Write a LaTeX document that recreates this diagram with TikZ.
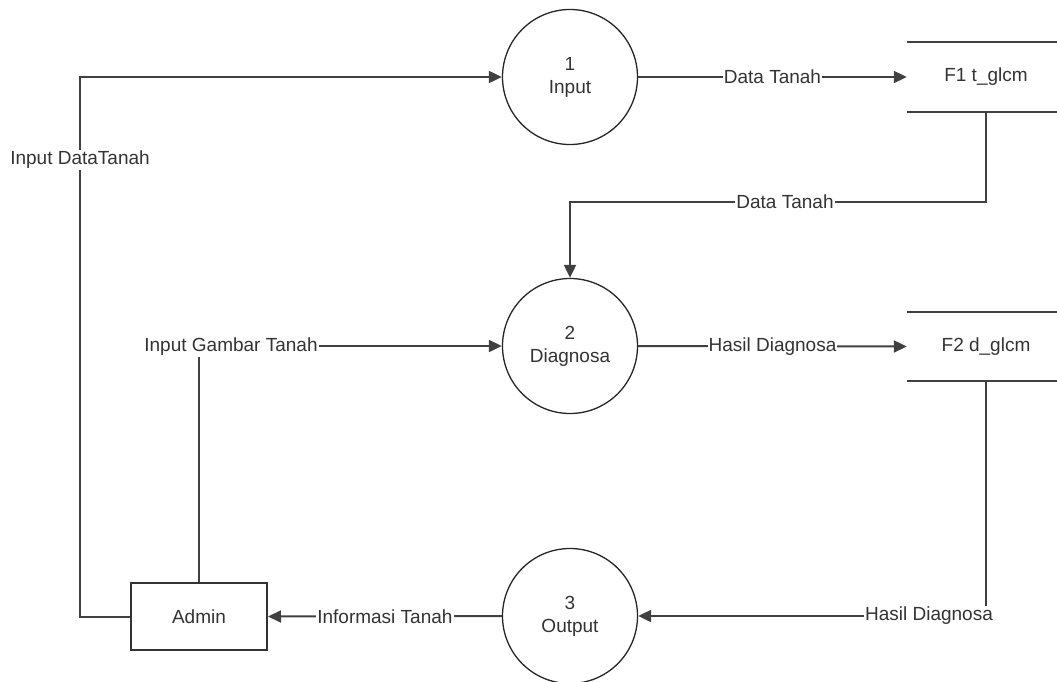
\documentclass[tikz,border=0pt]{standalone}
\usepackage{fontspec}
\setmainfont{Liberation Sans}
\usetikzlibrary{arrows.meta}
\begin{document}
\begin{tikzpicture}[x=1pt,y=-1pt,
  every node/.style={font=\fontsize{19}{23}\selectfont, text=black!80},
  proc/.style={circle, draw=black!85, line width=1.3pt, minimum size=135pt, inner sep=0pt, align=center},
  ent/.style={draw=black!80, line width=2pt, minimum width=136pt, minimum height=67pt, inner sep=0pt},
  store/.style={minimum width=158pt, minimum height=69pt, inner sep=0pt},
  flow/.style={draw=black!75, line width=2pt},
  arr/.style={flow, -{Triangle[length=13pt,width=12pt]}},
  lbl/.style={fill=white, inner sep=1pt},
]
\useasboundingbox (0,0) rectangle (1057,681);
% processes
\node[proc] (p1) at (570,77) {1\\Input};
\node[proc] (p2) at (570,346) {2\\Diagnosa};
\node[proc] (p3) at (570,616) {3\\Output};
% entity
\node[ent] (admin) at (199,616.5) {Admin};
% data stores
\node[store] (f1) at (986,77) {F1 t\_glcm};
\node[store] (f2) at (986,346.5) {F2 d\_glcm};
\draw[flow] (f1.north west) -- (f1.north east);
\draw[flow] (f1.south west) -- (f1.south east);
\draw[flow] (f2.north west) -- (f2.north east);
\draw[flow] (f2.south west) -- (f2.south east);
% helper coordinates
\coordinate (c1) at (80,77);
\coordinate (c4) at (986,202);
% flows
\draw[arr] (admin.west) -| (c1) -- (p1.west);
\node[lbl] (l1) at (80,160) {Input DataTanah};
\draw[arr] (admin.north) |- (p2.west);
\node[lbl] (l2) at (231,347) {Input Gambar Tanah};
\draw[arr] (p1.east) -- node[lbl] (l3) {Data Tanah} (f1.west);
\draw[arr] (f1.south) -- (c4) -| (p2.north);
\node[lbl] (l4) at (785,202) {Data Tanah};
\draw[arr] (p2.east) -- node[lbl] (l5) {Hasil Diagnosa} (f2.west);
\draw[arr] (f2.south) |- (p3.east);
\node[lbl] (l6) at (929,616) {Hasil Diagnosa};
\draw[arr] (p3.west) -- node[lbl] (l7) {Informasi Tanah} (admin.east);
\end{tikzpicture}
\end{document}
